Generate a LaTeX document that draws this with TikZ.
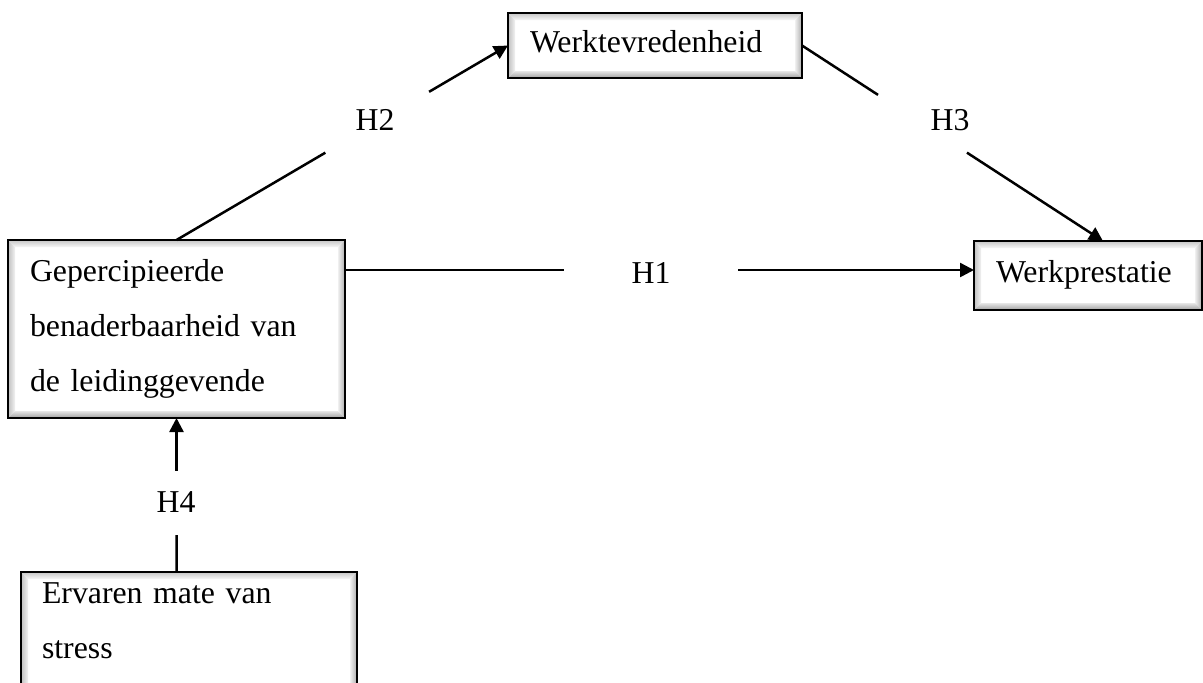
\documentclass[tikz,border=0pt]{standalone}
\usepackage{fontspec}
\setmainfont{Liberation Serif}
\usetikzlibrary{arrows.meta,calc}
\tikzset{
  bevelbox/.style={draw=black, line width=1.3pt, fill=white, outer sep=0pt,
    inner ysep=0pt, inner xsep=11pt, anchor=north west, align=left,
    font=\fontsize{15.9}{27.5}\selectfont,
    path picture={
      \coordinate (pnw) at (path picture bounding box.north west);
      \coordinate (pne) at (path picture bounding box.north east);
      \coordinate (psw) at (path picture bounding box.south west);
      \coordinate (pse) at (path picture bounding box.south east);
      \shade[top color=gray!45, bottom color=gray!6]
        (pnw) -- (pne) -- ($(pne)+(-7,7)$) -- ($(pnw)+(7,7)$) -- cycle;
      \shade[left color=gray!50, right color=gray!10]
        (pnw) -- ($(pnw)+(7,7)$) -- ($(psw)+(7,-7)$) -- (psw) -- cycle;
      \shade[left color=gray!12, right color=gray!65]
        (pne) -- ($(pne)+(-7,7)$) -- ($(pse)+(-7,-7)$) -- (pse) -- cycle;
      \shade[top color=gray!20, bottom color=gray!75]
        (psw) -- ($(psw)+(7,-7)$) -- ($(pse)+(-7,-7)$) -- (pse) -- cycle;
    }},
  oneline/.style={text height=10.85pt, text depth=3.45pt},
  hyp/.style={font=\fontsize{15.9}{19}\selectfont, inner sep=0pt},
  conn/.style={line width=1.25pt},
  arr/.style={conn, -{Triangle[length=7pt,width=7pt]}}
}
\begin{document}
\begin{tikzpicture}[x=0.5pt, y=-0.5pt]
  \useasboundingbox (0,0) rectangle (1203,682);
  \clip (0,0) rectangle (1203,682);

  % boxes
  \node[bevelbox, oneline, text width=125pt, minimum height=32.5pt] (wv) at (508,13) {Werktevredenheid};
  \node[bevelbox, text width=146.5pt, minimum height=89pt] (gp) at (8,240)
    {Gepercipieerde\\benaderbaarheid van\\de leidinggevende};
  \node[bevelbox, oneline, text width=92pt, minimum height=34.5pt] (wp) at (974,241) {Werkprestatie};
  \node[bevelbox, inner xsep=10.5pt, text width=147pt, minimum height=84pt] (er) at (21,572)
    {Ervaren mate van\\stress\rule[-35.4pt]{0pt}{0pt}};

  % hypothesis labels
  \node[hyp] (h2) at (375,120) {H2};
  \node[hyp] (h3) at (950,120) {H3};
  \node[hyp] (h1) at (651,273) {H1};
  \node[hyp] (h4) at (176,502) {H4};

  % connector end points
  \coordinate (h1a) at ($(gp.north east)+(0,30)$);
  \coordinate (h1b) at ($(wp.west)+(0,-5.5)$);
  \coordinate (h3b) at ($(wp.north)+(15,0)$);
  \coordinate (h4a) at (er.north -| gp.south);

  % H2
  \draw[conn] (gp.north) -- ($(gp.north)!0.449!(wv.west)$);
  \draw[arr] ($(gp.north)!0.762!(wv.west)$) -- (wv.west);
  % H3
  \draw[conn] (wv.east) -- ($(wv.east)!0.2525!(h3b)$);
  \draw[arr] ($(wv.east)!0.548!(h3b)$) -- (h3b);
  % H1
  \draw[conn] (h1a) -- ($(h1a)!0.348!(h1b)$);
  \draw[arr] ($(h1a)!0.625!(h1b)$) -- (h1b);
  % H4
  \draw[conn] (h4a) -- ($(h4a)!0.24!(gp.south)$);
  \draw[arr] ($(h4a)!0.656!(gp.south)$) -- (gp.south);
\end{tikzpicture}
\end{document}
